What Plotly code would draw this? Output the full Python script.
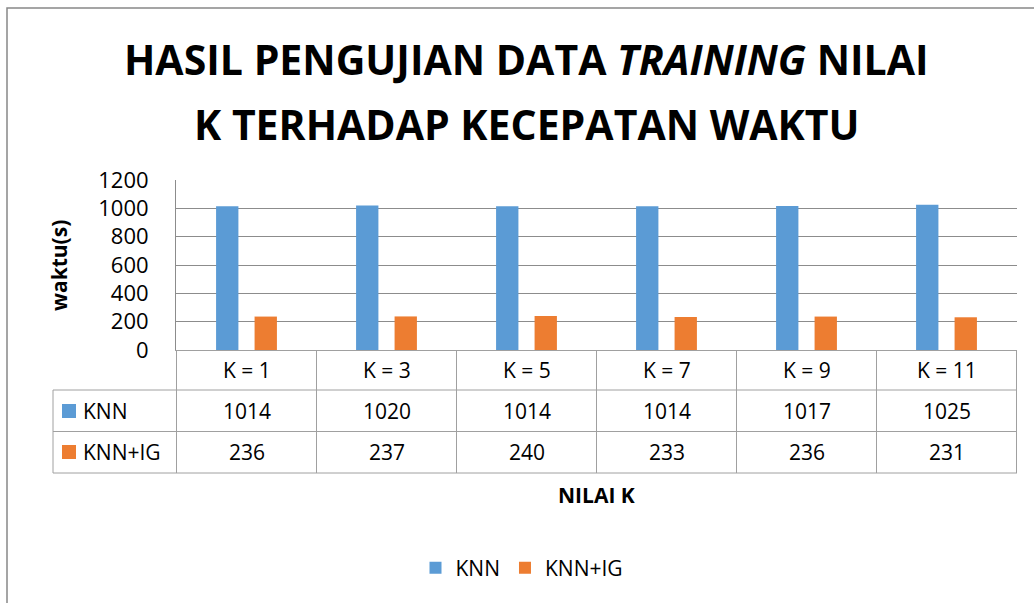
import plotly.graph_objects as go

# ---- data ----
categories = ["K = 1", "K = 3", "K = 5", "K = 7", "K = 9", "K = 11"]
knn = [1014, 1020, 1014, 1014, 1017, 1025]
knn_ig = [236, 237, 240, 233, 236, 231]
series_names = ["KNN", "KNN+IG"]
y_ticks = [0, 200, 400, 600, 800, 1000, 1200]

# ---- styling / layout geometry (pixels) ----
W, H = 1034, 603
L, R, T, B = 176, 1017, 180, 350
BLUE, ORANGE = "#5B9BD5", "#ED7D31"
GRID = "#8c8c8c"
TABLE = "#a0a0a0"
FONT = "Open Sans"


def px(x):
    return (x - L) / (R - L)


def py(y):
    return (B - y) / (B - T)


fig = go.Figure()
fig.add_trace(go.Bar(x=categories, y=knn, name=series_names[0],
                     marker=dict(color=BLUE, line=dict(width=0))))
fig.add_trace(go.Bar(x=categories, y=knn_ig, name=series_names[1],
                     marker=dict(color=ORANGE, line=dict(width=0))))

shapes = []
annotations = []

# outer chart border
shapes.append(dict(type="rect", xref="paper", yref="paper",
                   x0=px(7), x1=px(1045), y0=py(8), y1=py(615),
                   line=dict(color="#888888", width=1.5), layer="below"))

# data table lines
row_lines = [390, 431.5, 473]
for yy in row_lines:
    shapes.append(dict(type="line", xref="paper", yref="paper",
                       x0=px(53), x1=1, y0=py(yy), y1=py(yy),
                       line=dict(color=TABLE, width=1)))
for i in range(len(categories) + 1):
    shapes.append(dict(type="line", xref="x", yref="paper",
                       x0=i - 0.5, x1=i - 0.5, y0=0, y1=py(473),
                       line=dict(color=TABLE, width=1)))
shapes.append(dict(type="line", xref="paper", yref="paper",
                   x0=px(53), x1=px(53), y0=py(390), y1=py(473),
                   line=dict(color=TABLE, width=1)))

# legend keys in table
row_centers = [411, 452]
for yc, col in zip(row_centers, [BLUE, ORANGE]):
    shapes.append(dict(type="rect", xref="paper", yref="paper",
                       x0=px(62), x1=px(76), y0=py(yc - 7), y1=py(yc + 7),
                       line=dict(width=0), fillcolor=col))

tfont = dict(family=FONT, size=21, color="#000000")
for name, yc in zip(series_names, row_centers):
    annotations.append(dict(xref="paper", yref="paper", x=px(81), y=py(yc),
                            text=name, showarrow=False, xanchor="left",
                            yanchor="middle", font=tfont))
for i, cat in enumerate(categories):
    annotations.append(dict(xref="x", yref="paper", x=cat, y=py(370),
                            text=cat, showarrow=False, yanchor="middle",
                            font=tfont))
    for vals, yc in zip([knn, knn_ig], row_centers):
        annotations.append(dict(xref="x", yref="paper", x=cat, y=py(yc),
                                text=str(vals[i]), showarrow=False,
                                yanchor="middle", font=tfont))

# titles
title_font = dict(family=FONT, size=41, color="#000000")
annotations.append(dict(xref="paper", yref="paper", x=px(526.5), y=py(59),
                        text="<b>HASIL PENGUJIAN DATA <i>TRAINING</i> NILAI</b>",
                        showarrow=False, yanchor="middle", font=title_font))
annotations.append(dict(xref="paper", yref="paper", x=px(526.5), y=py(124),
                        text="<b>K TERHADAP KECEPATAN WAKTU</b>",
                        showarrow=False, yanchor="middle", font=title_font))
annotations.append(dict(xref="paper", yref="paper", x=px(596), y=py(495),
                        text="<b>NILAI K</b>", showarrow=False,
                        yanchor="middle", font=dict(family=FONT, size=21, color="#000")))
annotations.append(dict(xref="paper", yref="paper", x=px(59), y=py(265),
                        text="<b>waktu(s)</b>", showarrow=False, textangle=-90,
                        xanchor="center", yanchor="middle",
                        font=dict(family=FONT, size=21, color="#000")))

fig.update_layout(
    width=W, height=H,
    margin=dict(l=L, r=W - R, t=T, b=H - B, pad=0),
    paper_bgcolor="white", plot_bgcolor="white",
    barmode="group", bargap=0.45, bargroupgap=0.42,
    font=dict(family=FONT, size=21, color="#000"),
    showlegend=True,
    legend=dict(orientation="h", x=px(522), y=py(568), xanchor="center",
                yanchor="middle", font=dict(family=FONT, size=21, color="#000"),
                itemwidth=30, tracegroupgap=0),
    shapes=shapes, annotations=annotations,
)
fig.update_xaxes(showticklabels=False, showline=True, linecolor=TABLE,
                 linewidth=1, showgrid=False, ticks="", fixedrange=True)
fig.update_yaxes(range=[0, 1200], tickvals=y_ticks, showgrid=True,
                 gridcolor=GRID, gridwidth=1, showline=True, linecolor=GRID,
                 linewidth=1, ticks="", ticklabelstandoff=22,
                 tickfont=dict(family=FONT, size=22, color="#000"),
                 zeroline=False)

fig.write_html("out.html", config={"displayModeBar": False},
               post_script="document.body.style.margin='0';document.body.style.overflow='hidden';")
